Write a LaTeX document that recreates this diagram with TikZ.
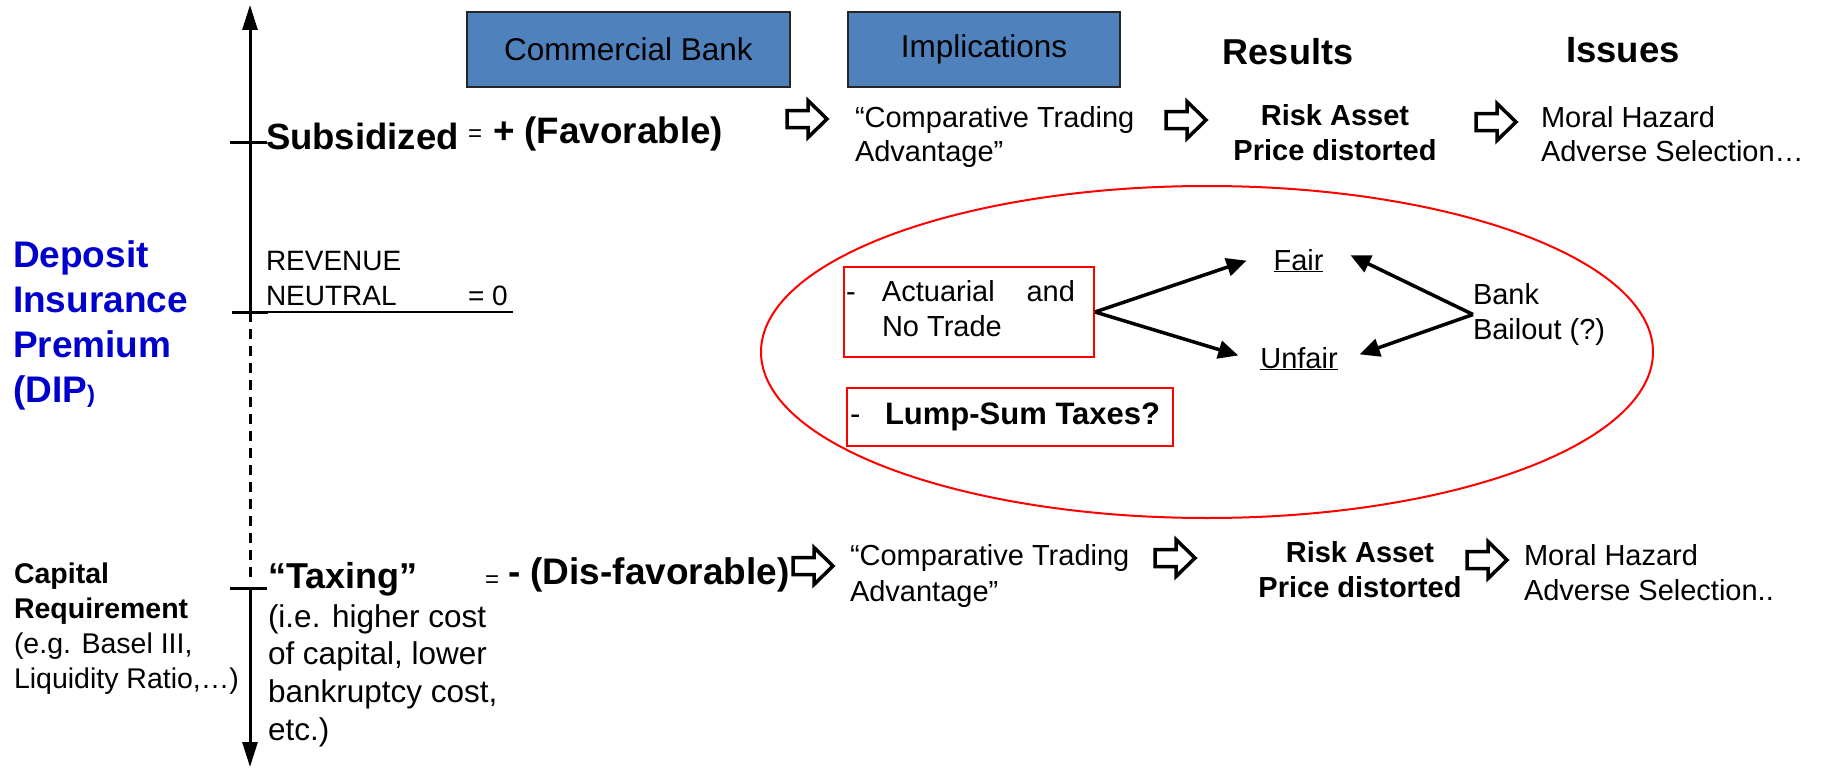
\documentclass[tikz,border=0pt]{standalone}
\usepackage{fontspec}
\setmainfont{Liberation Sans}
\usetikzlibrary{arrows.meta}
\definecolor{boxblue}{RGB}{79,129,189}
\definecolor{dipblue}{RGB}{0,0,204}
\newcommand\fs[2]{\fontsize{#1}{#2}\selectfont}
\newcommand\rows[1]{\begin{tabular}[t]{@{}l@{}}#1\end{tabular}}
\newcommand\crows[1]{\begin{tabular}[t]{@{}c@{}}#1\end{tabular}}
\begin{document}
\begin{tikzpicture}[x=1pt,y=-1pt,
  txt/.style={inner sep=0pt, outer sep=0pt},
  bluebox/.style={draw=black!85, line width=2pt, fill=boxblue, inner sep=0pt, font=\fs{31.5}{38}},
  redbox/.style={draw=red, line width=2pt, inner sep=0pt},
  axisline/.style={line width=3pt},
  tickline/.style={line width=3pt},
  axtip/.style={-{Triangle[length=25pt,width=15pt]}},
  conn/.style={line width=3.5pt, -{Triangle[length=20pt,width=18pt]}},
  harrow/.pic={\draw[line width=3.5pt, fill=white, line join=miter]
    (-20,-8.5) -- (1,-8.5) -- (1,-18.5) -- (20,0) -- (1,18.5) -- (1,8.5) -- (-20,8.5) -- cycle;}
]
\useasboundingbox (0,0) rectangle (1821,768);

% ---------- vertical axis ----------
\coordinate (atop) at (250,5);
\coordinate (aneu) at (250,312);
\coordinate (adash) at (250,578);
\coordinate (atx) at (250,588);
\coordinate (abot) at (250,767);
\draw[axisline, axtip] (aneu) -- (atop);
\draw[axisline, dash pattern=on 10pt off 7pt] (aneu) -- (adash);
\draw[axisline, axtip] (atx) -- (abot);

% ticks
\coordinate (ts1) at (230,142); \coordinate (ts2) at (267,142);
\draw[tickline] (ts1) -- (ts2);
\coordinate (tn1) at (232,312); \coordinate (tn2) at (268,312); \coordinate (tn3) at (513,312);
\draw[tickline] (tn1) -- (tn2);
\draw[line width=2pt] (tn2) -- (tn3);
\coordinate (tt1) at (230,588); \coordinate (tt2) at (267,588);
\draw[tickline] (tt1) -- (tt2);

% ---------- left labels ----------
\node[txt, anchor=base west, font=\fs{37}{45}\bfseries, text=dipblue] (dip) at (13,267)
  {\rows{Deposit\\Insurance\\Premium\\(DIP{\fs{24}{24})}}};
\node[txt, anchor=base west, font=\fs{28.5}{35}] (cap) at (14,583)
  {\rows{\textbf{Capital}\\\textbf{Requirement}\\(e.g. Basel III,\\Liquidity Ratio,…)}};

% ---------- subsidized row ----------
\node[txt, anchor=base west, font=\fs{36.5}{44}\bfseries] (sub) at (266,149) {Subsidized};
\node[txt, anchor=base west, font=\fs{24}{28}] (eq1) at (468,141) {=};
\node[txt, anchor=base west, font=\fs{36.8}{44}\bfseries] (fav) at (493,143) {+ (Favorable)};

% ---------- neutral ----------
\node[txt, anchor=base west, font=\fs{28}{35}] (rn) at (266,270) {\rows{REVENUE\\NEUTRAL}};
\node[txt, anchor=base west, font=\fs{28}{35}] (zero) at (468,305) {= 0};

% ---------- taxing row ----------
\node[txt, anchor=base west, font=\fs{36}{44}\bfseries] (tax) at (268,588) {“Taxing”};
\node[txt, anchor=base west, font=\fs{24}{28}] (eq2) at (485,587) {=};
\node[txt, anchor=base west, font=\fs{37}{44}\bfseries] (disfav) at (508,584) {- (Dis-favorable)};
\node[txt, anchor=base west, font=\fs{31.5}{37.7}] (ie) at (268,627)
  {\rows{(i.e. higher cost\\of capital, lower\\bankruptcy cost,\\etc.)}};

% ---------- headers ----------
\node[bluebox, minimum width=323pt, minimum height=75pt] (cb) at (628.5,49.5) {Commercial Bank};
\node[bluebox, minimum width=272pt, minimum height=75pt] (imp) at (984,49.5) {Implications};
\node[txt, anchor=base, font=\fs{36}{44}\bfseries] (res) at (1288,65) {Results};
\node[txt, anchor=base, font=\fs{36.5}{44}\bfseries] (iss) at (1623,63) {Issues};

% ---------- top row ----------
\pic at (807,119) {harrow};
\pic at (1186,120) {harrow};
\pic at (1496,122) {harrow};
\node[txt, anchor=base west, font=\fs{29}{33}] (cta1) at (855,128) {\rows{“Comparative Trading\\Advantage”}};
\node[txt, anchor=base, font=\fs{29}{35}\bfseries] (ra1) at (1335,125) {\crows{Risk Asset\\Price distorted}};
\node[txt, anchor=base west, font=\fs{29}{35}] (mh1) at (1541,127) {\rows{Moral Hazard\\Adverse Selection…}};

% ---------- bottom row ----------
\pic at (813,566) {harrow};
\pic at (1175,558) {harrow};
\pic at (1487,560) {harrow};
\node[txt, anchor=base west, font=\fs{29}{36}] (cta2) at (850,565) {\rows{“Comparative Trading\\Advantage”}};
\node[txt, anchor=base, font=\fs{29}{35}\bfseries] (ra2) at (1360,562) {\crows{Risk Asset\\Price distorted}};
\node[txt, anchor=base west, font=\fs{29}{35}] (mh2) at (1524,565) {\rows{Moral Hazard\\Adverse Selection..}};

% ---------- ellipse group ----------
\draw[red, line width=2pt] (1207,352) ellipse [x radius=446pt, y radius=166pt];
\node[redbox, minimum width=250pt, minimum height=90pt, font=\fs{29}{35}] (act) at (969,312)
  {\rows{\makebox[36pt][l]{-}\makebox[193pt][s]{Actuarial\hfill and}\kern17pt\\\hspace{36pt}No Trade}};
\node[redbox, minimum width=326pt, minimum height=58pt, font=\fs{31}{37}] (lump) at (1010,417)
  {\makebox[320pt][l]{-\hspace{24.7pt}\textbf{Lump-Sum Taxes?}}};
\node[txt, inner xsep=27pt, anchor=base, font=\fs{29}{35}] (fair) at (1298.5,270) {\underline{Fair}};
\node[txt, inner xsep=22pt, anchor=base, font=\fs{29}{35}] (unfair) at (1299,368) {\underline{Unfair}};
\node[txt, anchor=base west, font=\fs{29}{35}] (bail) at (1473,304) {\rows{Bank\\Bailout (?)}};

\draw[conn] (act.east) -- (fair.west);
\draw[conn] (act.east) -- (unfair.177);
\draw[conn] (bail.west) -- (fair.6);
\draw[conn] (bail.west) -- (unfair.4);
\end{tikzpicture}
\end{document}
